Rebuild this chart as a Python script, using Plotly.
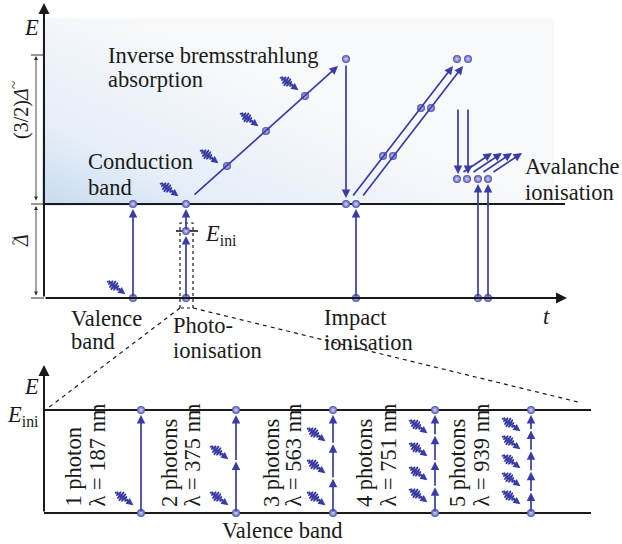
import numpy as np
import plotly.graph_objects as go

W, H = 622, 544
BLUE = '#3a3ca6'
ELEC = '#4c50b0'
INK = '#1a1a1a'
SERIF = 'Liberation Serif, Times New Roman, DejaVu Serif, serif'
FS = 22.5

# ---------------- upper panel geometry (diagram units = px) ----------------
axis_x = 44
valence_y = 298
conduction_y = 204
band_right = 565
t_tip = 567
E_tip = 3
dim_top = 55
dim_x = 36
bg_x = [44, 552]
bg_y = [20, 204]

# electrons (upper panel)
elec_up_x = [133, 133, 186, 186, 186, 227, 266, 305, 346, 346, 356, 356,
             383, 393, 421, 431, 457, 468, 457, 467, 478, 488, 478, 488]
elec_up_y = [298, 204, 298, 231, 204, 166, 131, 96, 59, 204, 204, 298,
             156, 156, 108, 108, 59, 59, 179, 179, 179, 179, 298, 298]

# blue arrows upper panel: tail x, tail y, head x, head y
arr_tx = [133, 186, 186, 193, 346, 356, 352, 362, 458, 468, 462, 472, 482, 492, 478, 488]
arr_ty = [298, 298, 231, 196, 64, 298, 197, 197, 108, 108, 173, 173, 173, 173, 298, 298]
arr_hx = [133, 186, 186, 338, 346, 356, 453, 463, 458, 468, 492, 502, 512, 522, 478, 488]
arr_hy = [209, 236, 209, 66, 198, 209, 66, 66, 174, 174, 153, 153, 153, 153, 184, 184]

# photon glyph centres, upper panel
ph_up_x = [117, 170, 210, 250, 290]
ph_up_y = [288, 190, 157, 120, 84]

# ---------------- lower panel ----------------
low_top = 410
low_bottom = 513
low_right = 591
low_E_tip = 365
col_x = [141, 236, 333, 435, 531]
n_photons = [1, 2, 3, 4, 5]
wavelength_nm = [187, 375, 563, 751, 939]
label1_x = [73, 169, 271, 364, 457]
label2_x = [97, 192, 293, 388, 481]
ph_low_x = [125, 220, 220, 317, 317, 317, 419, 419, 419, 419, 512, 512, 512, 512, 512]
ph_low_y = [499, 453, 499, 435, 467, 499, 427, 450, 474, 496, 425, 443, 462, 480, 498]

fig = go.Figure()

# background gradient (upper panel)
gx = np.linspace(bg_x[0], bg_x[1], 120)
gy = np.linspace(bg_y[0], bg_y[1], 60)
XX, YY = np.meshgrid(gx, gy)
yn = (bg_y[1] - YY) / (bg_y[1] - bg_y[0])
xn = (XX - bg_x[0]) / (bg_x[1] - bg_x[0])
Z = np.clip(0.8 * yn + 1.0 * xn, 0, 1)
fig.add_trace(go.Heatmap(x=gx, y=gy, z=Z, showscale=False, zsmooth='best',
                         colorscale=[[0, '#c8dcf0'], [0.35, '#e6eef8'], [1, '#f8f9fb']],
                         hoverinfo='skip'))

def seg(xs, ys, color=INK, width=2, dash='solid'):
    fig.add_trace(go.Scatter(x=xs, y=ys, mode='lines', hoverinfo='skip',
                             line=dict(color=color, width=width, dash=dash), showlegend=False))

# band lines
seg([axis_x, band_right], [conduction_y, conduction_y], width=2.2)
seg([axis_x, low_right], [low_top, low_top], width=2.2)
seg([axis_x, low_right], [low_bottom, low_bottom], width=2.2)
# ticks of dimension arrows
for yy in [dim_top, conduction_y, valence_y]:
    seg([dim_x - 5, axis_x], [yy, yy], width=0.9)
# E_ini tick
seg([176, 198], [231, 231], width=1.6)
# dashed zoom box + rays
seg([180, 180, 193, 193, 180], [308, 223, 223, 308, 308], width=1.2, dash='3px,3px')
seg([180, 48], [308, 408], width=1.2, dash='4px,4px')
seg([193, 578], [308, 402], width=1.2, dash='4px,4px')

annotations = []

def arrow(tx, ty, hx, hy, color=BLUE, width=1.7, head=2, size=1.0, both=False):
    d = dict(x=hx, y=hy, ax=tx, ay=ty, xref='x', yref='y', axref='x', ayref='y',
             text='', showarrow=True, arrowcolor=color, arrowwidth=width,
             arrowhead=head, arrowsize=size)
    if both:
        d.update(arrowside='end+start', startarrowhead=head, startarrowsize=size)
    annotations.append(d)

# black axes
arrow(axis_x, valence_y, axis_x, E_tip, color=INK, width=2, head=2, size=1.1)
arrow(axis_x, valence_y, t_tip, valence_y, color=INK, width=2, head=2, size=1.1)
arrow(axis_x, low_bottom, axis_x, low_E_tip, color=INK, width=2, head=2, size=1.1)
# dimension arrows
arrow(dim_x, conduction_y - 2, dim_x, dim_top + 1, color='#333', width=0.9, head=2, size=0.9, both=True)
arrow(dim_x, valence_y - 1, dim_x, conduction_y + 2, color='#333', width=0.9, head=2, size=0.9, both=True)

# blue process arrows
for tx, ty, hx, hy in zip(arr_tx, arr_ty, arr_hx, arr_hy):
    arrow(tx, ty, hx, hy)

# lower panel multi-photon arrows
lower_ex, lower_ey = [], []
for cx, n in zip(col_x, n_photons):
    step = (low_bottom - low_top) / n
    for k in range(n):
        y0 = low_bottom - k * step
        y1 = low_bottom - (k + 1) * step
        if k == n - 1:
            y1 = low_top + 5
        arrow(cx, y0, cx, y1)
    lower_ex += [cx, cx]
    lower_ey += [low_top, low_bottom]

# photon glyphs
d = np.array([0.8, 0.6])
nrm = np.array([-0.6, 0.8])
px, py = [], []
for cx, cy in zip(ph_up_x + ph_low_x, ph_up_y + ph_low_y):
    u = np.linspace(-12, 4, 80)
    env = 5.0 * np.exp(-((u + 4) / 5.5) ** 2)
    w = env * np.sin(2 * np.pi * (u + 12) / 2.5)
    px += list(cx + u * d[0] + w * nrm[0]) + [None]
    py += list(cy + u * d[1] + w * nrm[1]) + [None]
    arrow(cx + 3 * d[0], cy + 3 * d[1], cx + 10.5 * d[0], cy + 10.5 * d[1], width=1.6, size=0.9)
fig.add_trace(go.Scatter(x=px, y=py, mode='lines', line=dict(color=BLUE, width=1.4),
                         hoverinfo='skip', showlegend=False))

# electrons
fig.add_trace(go.Scatter(x=elec_up_x + lower_ex, y=elec_up_y + lower_ey, mode='markers',
                         hoverinfo='skip', showlegend=False,
                         marker=dict(size=8, color=ELEC, line=dict(width=0),
                                     gradient=dict(type='radial', color='#d8daf6'))))

def text(s, x, y, xa='left', size=FS, angle=0, ya='middle'):
    annotations.append(dict(x=x, y=y, xref='x', yref='y', text=s, showarrow=False,
                            xanchor=xa, yanchor=ya, textangle=angle,
                            font=dict(family=SERIF, size=size, color=INK)))

text('<i>E</i>', 31, 27, xa='center')
text('<i>t</i>', 546, 316, xa='center')
text('<i>E</i>', 31, 386, xa='center')
text('<i>E</i><sub>ini</sub>', 41, 416, xa='right')
text('<i>E</i><sub>ini</sub>', 203, 235, xa='left')
# rotated dimension labels; tilde drawn as its own glyph above the delta
text('(3/2)<i>Δ</i>', 21, 114, xa='center', angle=-90, size=20)
text('~', 4, 85, xa='left', angle=-90, size=15)
text('<i>Δ</i>', 21, 241, xa='center', angle=-90, size=20)
text('~', 4, 241, xa='left', angle=-90, size=15)

for s, x, y in [('Inverse bremsstrahlung', 106, 55), ('absorption', 106, 79),
                ('Conduction', 86, 161), ('band', 86, 187),
                ('Avalanche', 523, 166), ('ionisation', 523, 192),
                ('Valence', 69, 318), ('band', 69, 341),
                ('Photo-', 171, 325), ('ionisation', 171, 350),
                ('Impact', 322, 317), ('ionisation', 322, 342)]:
    text(s, x, y)
text('Valence band', 282, 530, xa='center')

for n, lam, x1, x2 in zip(n_photons, wavelength_nm, label1_x, label2_x):
    word = 'photon' if n == 1 else 'photons'
    text(f'{n} {word}', x1, 509, xa='center', angle=-90, ya='bottom')
    text(f'λ = {lam} nm', x2, 509, xa='center', angle=-90, ya='bottom')

fig.update_layout(
    width=W, height=H, margin=dict(l=0, r=0, t=0, b=0),
    paper_bgcolor='white', plot_bgcolor='white', showlegend=False,
    xaxis=dict(range=[0, W], visible=False, fixedrange=True),
    yaxis=dict(range=[H, 0], visible=False, fixedrange=True),
    annotations=annotations,
)
fig.write_html('out.html', config={'displayModeBar': False})
